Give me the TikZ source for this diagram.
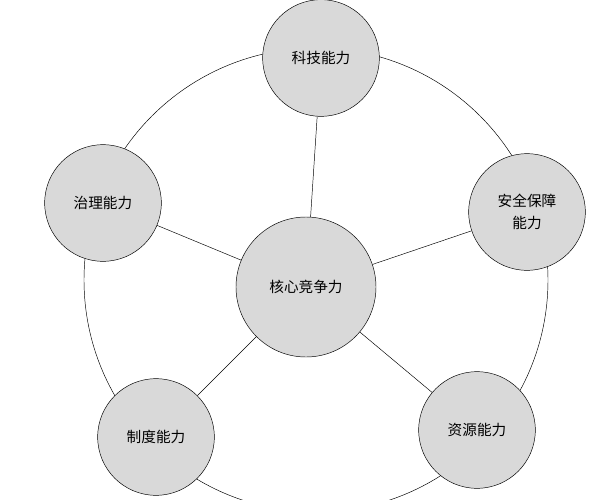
\documentclass[tikz,border=0pt]{standalone}
\usepackage{fontspec}
\newfontfamily\cjk{Noto Sans CJK SC}
\definecolor{ballgray}{HTML}{D9D9D9}
\begin{document}
\begin{tikzpicture}[x=0.03cm,y=-0.03cm]
\tikzset{ability/.style={draw, circle, fill=ballgray, minimum size=3.5cm, inner sep=0pt, align=center, font=\cjk\fontsize{12.5}{19}\selectfont},
core/.style={ability, minimum size=4.2cm}}
\useasboundingbox (0,0) rectangle (602,500);
\draw (316,280) circle [radius=232];
\node[core] (core) at (306,287) {核心竞争力};
\node[ability] (tech) at (321,58) {科技能力};
\node[ability] (gov) at (103,203) {治理能力};
\node[ability] (safe) at (527,212) {安全保障\\能力};
\node[ability] (inst) at (156,437) {制度能力};
\node[ability] (res) at (477,430) {资源能力};
\foreach \n in {tech,gov,safe,inst,res}
  \draw (core) -- (\n);
\end{tikzpicture}
\end{document}
